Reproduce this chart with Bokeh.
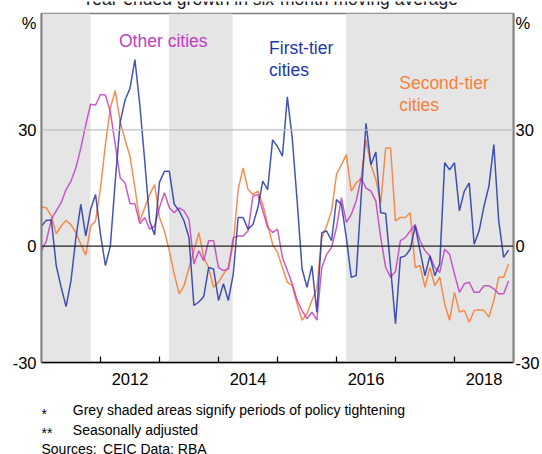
import pandas as pd
from bokeh.plotting import figure
from bokeh.layouts import column
from bokeh.models import (FixedTicker, CustomJSTickFormatter, LinearAxis, Range1d,
                          Span, Label, ColumnDataSource)
from bokeh.core.properties import value
from bokeh.embed import file_html
from bokeh.resources import INLINE

# ---------------- data ----------------
months = pd.date_range("2011-01-01", periods=96, freq="MS")

first_tier = [5.2, 6.7, 6.7, -5.0, -10.6, -15.6, -8.9, 2.2, 10.8, 2.6, 9.5, 13.3,
              3.0, -5.0, 0.0, 16.8, 32.0, 37.7, 40.7, 48.1, 36.4, 21.9, 6.5, 2.9,
              16.5, 19.3, 19.3, 10.8, 9.1, 6.5, 2.2, -15.3, -14.4, -13.0, -5.5, -5.9,
              -14.0, -9.7, -14.0, -7.2, 7.4, 7.4, 4.4, 5.6, 9.9, 16.8, 14.6, 27.4,
              25.7, 23.2, 38.5, 27.9, 11.6, -5.9, -10.6, -5.0, -17.0, 3.5, 3.9, 1.4,
              12.0, 10.8, 2.2, -8.0, -7.6, 12.5, 31.7, 21.0, 24.3, 8.6, 8.4, -5.5,
              -20.0, -2.9, -2.5, -0.8, 5.2, -1.2, -7.6, -2.5, -7.6, -4.6, 21.5, 19.7,
              21.5, 9.1, 14.2, 16.3, 0.5, 3.9, 10.3, 15.5, 26.2, 6.5, -2.9, -1.0]

second_tier = [10.1, 9.9, 7.8, 3.2, 5.2, 6.7, 5.5, 3.5, 0.5, -2.3, 5.2, 6.5,
               15.0, 26.2, 35.6, 40.1, 32.1, 27.4, 23.2, 15.0, 6.5, 9.9, 13.3, 15.9,
               7.4, 3.9, -1.2, -7.2, -12.3, -10.2, -5.5, -1.2, 3.5, -2.9, -5.5, -10.6,
               -9.3, -7.2, -5.5, 0.5, 14.6, 20.2, 14.6, 13.3, 14.2, 10.8, 5.6, 0.5,
               -1.6, -5.5, -9.3, -10.2, -14.9, -19.1, -17.4, -14.0, -11.0, 2.2, 5.2, 9.1,
               18.5, 21.0, 23.6, 14.2, 16.3, 17.6, 27.4, 21.0, 17.2, 11.2, 25.3, 25.3,
               6.5, 7.4, 7.4, 8.6, -5.5, -5.0, -10.6, -5.5, -10.2, -8.0, -14.9, -19.1,
               -11.9, -17.0, -16.6, -19.6, -16.6, -16.4, -16.6, -18.3, -14.0, -8.0, -8.0, -4.6]

other_cities = [-1.2, 1.4, 6.9, 9.1, 11.2, 14.6, 16.8, 20.2, 25.3, 31.3, 36.6, 36.4,
                39.1, 39.0, 34.7, 26.2, 17.6, 16.3, 11.0, 10.9, 5.8, 7.4, 4.4, 5.2,
                10.0, 13.8, 9.9, 8.6, 9.9, 9.1, 6.9, -4.6, -1.2, -3.8, 1.4, 1.4,
                -5.5, -6.3, -5.9, 2.2, 2.6, 2.6, 3.9, 12.9, 13.3, 9.1, 4.8, 3.5,
                4.4, -2.9, -6.3, -9.7, -14.0, -16.6, -18.7, -17.0, -19.1, -5.5, -2.1, -0.3,
                4.8, 12.5, 6.1, 8.2, 11.6, 17.6, 15.0, 14.2, 11.6, 2.2, -5.5, -8.0,
                -6.5, 1.4, 2.2, 3.9, 5.6, 1.4, -1.2, -2.5, -5.5, -6.8, -0.8, -2.1,
                -7.2, -11.9, -9.7, -9.3, -11.9, -11.9, -10.2, -10.2, -11.0, -12.3, -12.3, -8.9]

tight_start = [2011.0, 2013.16, 2016.16]   # policy tightening periods (decimal years)
tight_end = [2011.83, 2014.24, 2019.0]

year_labels = ["2012", "2014", "2016", "2018"]
year_bounds = [2012, 2013, 2014, 2015, 2016, 2017, 2018]
y_ticks = [-30, 0, 30]
x_min, x_max = 2011, 2019
y_min, y_max = -30, 60

title_text = "Year-ended growth in six-month moving average"
footnotes = [("*", "Grey shaded areas signify periods of policy tightening"),
             ("**", "Seasonally adjusted")]
sources = ("Sources:", "CEIC Data: RBA")

# ---------------- styling / layout ----------------
FONT = "Liberation Sans"
BLUE = "#2236A8"
MAGENTA = "#C040C0"
ORANGE = "#F8803C"
SHADE = "#E5E5E5"

W = 542
TOP_H, MAIN_H, BOT_H = 11, 381, 62        # three stacked panels: 454 px total
L, R, T, B = 41, 516, 13, 362             # frame edges, page pixels
BASE_SHIFT = 0.33                         # svg baseline correction (in em)


def text_panel(height):
    # frame spans x = L..R like the main chart, x data == page pixels
    f = figure(width=W, height=height, output_backend="svg", toolbar_location=None,
               x_range=Range1d(L, R), y_range=Range1d(height, 0),
               x_axis_type=None, y_axis_type=None,
               min_border_left=L, min_border_right=W - R, min_border_top=0, min_border_bottom=0)
    f.outline_line_color = None
    f.background_fill_color = "white"
    f.border_fill_color = "white"
    f.grid.visible = False
    return f


# ---- top strip (title, cut off as in the original) ----
p_top = text_panel(TOP_H)
p_top.text(x=[271], y=[3.5 - BASE_SHIFT * 17.5], text=[title_text], text_font=value(FONT),
           text_font_size="17.5px", text_align="center", text_baseline="alphabetic",
           text_color="#1a1a1a")

# ---- main chart ----
dec_year = [d.year + (d.month - 1) / 12 for d in months]
src = ColumnDataSource(dict(x=dec_year, first=first_tier, second=second_tier, other=other_cities))

p = figure(width=W, height=MAIN_H, output_backend="svg", toolbar_location=None,
           x_range=Range1d(x_min, x_max), y_range=Range1d(y_min, y_max),
           x_axis_type=None, y_axis_type=None,
           min_border_left=L, min_border_right=W - R,
           min_border_top=T - TOP_H, min_border_bottom=TOP_H + MAIN_H - B)
p.background_fill_color = "white"
p.border_fill_color = "white"
p.outline_line_color = "#7F7F7F"
p.outline_line_width = 1.5


def to_data(px, py):
    """Page pixel position -> data coordinates of the main chart."""
    xd = x_min + (px - L) * (x_max - x_min) / (R - L)
    yd = y_max - (py - T) * (y_max - y_min) / (B - T)
    return xd, yd


p.quad(left=tight_start, right=tight_end, bottom=y_min, top=y_max,
       fill_color=SHADE, line_color=None)

p.add_layout(Span(location=30, dimension="width", line_color="#BFBFBF", line_width=1.2))
p.add_layout(Span(location=0, dimension="width", line_color="#222222", line_width=1.2))

p.line("x", "second", source=src, line_color=ORANGE, line_width=1.5, line_alpha=0.9)
p.line("x", "other", source=src, line_color=MAGENTA, line_width=1.5, line_alpha=0.85)
p.line("x", "first", source=src, line_color=BLUE, line_width=1.5, line_alpha=0.85)

y_fmt = CustomJSTickFormatter(code="return tick > 50 ? '%' : tick.toFixed(0);")
for side, standoff in (("left", 5), ("right", 2)):
    ax = LinearAxis(ticker=FixedTicker(ticks=y_ticks + [57.5], minor_ticks=[]),
                    formatter=y_fmt,
                    major_tick_in=0, major_tick_out=0, minor_tick_in=0, minor_tick_out=0,
                    major_label_standoff=standoff,
                    axis_line_color="#7F7F7F", axis_line_width=2,
                    major_label_text_font=FONT, major_label_text_font_size="16.5px",
                    major_label_text_color="black")
    p.add_layout(ax, side)

xax = LinearAxis(ticker=FixedTicker(ticks=[int(y) + 0.5 for y in year_labels], minor_ticks=year_bounds),
                 formatter=CustomJSTickFormatter(code="return String(Math.floor(tick));"),
                 major_tick_in=0, major_tick_out=0,
                 minor_tick_in=6, minor_tick_out=0, minor_tick_line_color="black",
                 minor_tick_line_width=1.2,
                 axis_line_color="black", axis_line_width=1.5,
                 major_label_standoff=10,
                 major_label_text_font=FONT, major_label_text_font_size="16.5px",
                 major_label_text_color="black")
p.add_layout(xax, "below")


def add_label(txt, px, py, color, size=17.5):
    xd, yd = to_data(px, py - BASE_SHIFT * size)
    p.add_layout(Label(x=xd, y=yd, text=txt, text_color=color, text_font=FONT,
                       text_font_size=f"{size}px", text_align="left", text_baseline="alphabetic"))


add_label("Other cities", 119, 46, MAGENTA)
add_label("First-tier", 270, 53, BLUE)
add_label("cities", 270, 75, BLUE)
add_label("Second-tier", 401, 88, ORANGE)
add_label("cities", 401, 110, ORANGE)

# ---- bottom strip (notes and sources) ----
p_bot = text_panel(BOT_H)
y0 = TOP_H + MAIN_H
fs = 14
marks = [f[0] for f in footnotes] + [sources[0]]
notes = [f[1] for f in footnotes] + [sources[1]]
mark_y = [v - y0 - BASE_SHIFT * fs for v in (418.5, 437, 453)]
note_y = [v - y0 - BASE_SHIFT * fs for v in (414, 434, 453)]
p_bot.text(x=[41, 41, 41], y=mark_y, text=marks, text_font=value(FONT),
           text_font_size=f"{fs}px", text_baseline="alphabetic", text_color="black")
p_bot.text(x=[72.5, 72.5, 103], y=note_y, text=notes, text_font=value(FONT),
           text_font_size=f"{fs}px", text_baseline="alphabetic", text_color="black")

layout = column(p_top, p, p_bot, spacing=0)
open("out.html", "w").write(file_html(layout, INLINE))
